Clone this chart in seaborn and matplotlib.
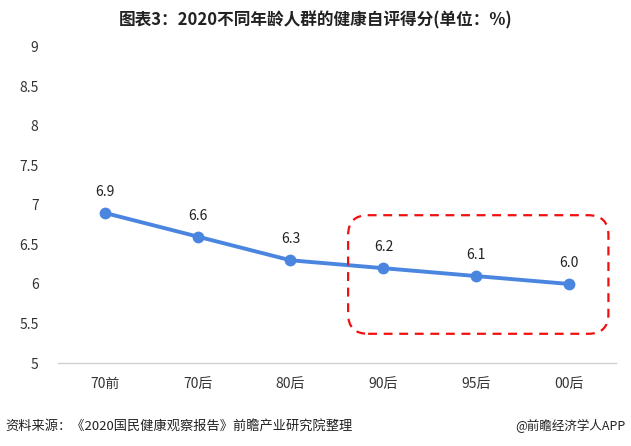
import matplotlib
matplotlib.use("Agg")
import matplotlib.pyplot as plt
import seaborn as sns
import pandas as pd
from matplotlib.patches import FancyBboxPatch

# data
groups = ["70前", "70后", "80后", "90后", "95后", "00后"]
scores = [6.9, 6.6, 6.3, 6.2, 6.1, 6.0]
y_ticks = [5, 5.5, 6, 6.5, 7, 7.5, 8, 8.5, 9]
y_tick_labels = ["5", "5.5", "6", "6.5", "7", "7.5", "8", "8.5", "9"]
highlight = ["90后", "00后"]

title = "图表3：2020不同年龄人群的健康自评得分(单位：%)"
source = "资料来源：《2020国民健康观察报告》前瞻产业研究院整理"
credit = "@前瞻经济学人APP"

sns.set_style("white")
plt.rcParams["font.family"] = ["Noto Sans CJK SC", "DejaVu Sans"]

df = pd.DataFrame({"group": groups, "score": scores})

fig = plt.figure(figsize=(6.31, 4.46), dpi=100)
ax = fig.add_axes([0.092, 0.186, 0.884, 0.709])

line_color = "#4A86E0"
sns.lineplot(
    data=df,
    x="group",
    y="score",
    sort=False,
    color=line_color,
    linewidth=2.8,
    marker="o",
    markersize=8.5,
    markeredgewidth=0,
    ax=ax
)

for i, v in enumerate(scores):
    ax.annotate(
        f"{v:.1f}",
        (i, v),
        xytext=(0, 10),
        textcoords="offset points",
        ha="center",
        va="bottom",
        fontsize=10,
        color="#222222"
    )

ax.set_xlim(-0.5, len(groups) - 0.5)
ax.set_ylim(5, 9)
ax.set_yticks(y_ticks)
ax.set_yticklabels(y_tick_labels)
ax.set_xlabel("")
ax.set_ylabel("")
ax.tick_params(axis="both", length=0, labelsize=10, colors="#333333")
ax.tick_params(axis="x", pad=10)
ax.tick_params(axis="y", pad=14)

for side in ["top", "right", "left"]:
    ax.spines[side].set_visible(False)
ax.spines["bottom"].set_color("#D0D0D0")
ax.spines["bottom"].set_linewidth(1)

# dashed highlight box around the last three groups
i0 = groups.index(highlight[0])
i1 = groups.index(highlight[1])
fig.canvas.draw()
x0, y0 = ax.transData.transform((i0 - 0.38, 5.37))
x1, y1 = ax.transData.transform((i1 + 0.42, 6.87))
box = FancyBboxPatch(
    (x0 + 20, y0 + 20),
    (x1 - x0) - 40,
    (y1 - y0) - 40,
    boxstyle="round,pad=20",
    transform=None,
    fill=False,
    edgecolor="#F01010",
    linewidth=1.6,
    linestyle=(0, (4, 3))
)
fig.add_artist(box)

fig.text(0.5, 0.955, title, ha="center", va="center",
         fontsize=12, fontweight="bold", color="#222222")
fig.text(0.008, 0.045, source, ha="left", va="center",
         fontsize=9.5, color="#222222")
fig.text(0.992, 0.045, credit, ha="right", va="center",
         fontsize=9, color="#222222")

fig.savefig("out.png", dpi=100)
